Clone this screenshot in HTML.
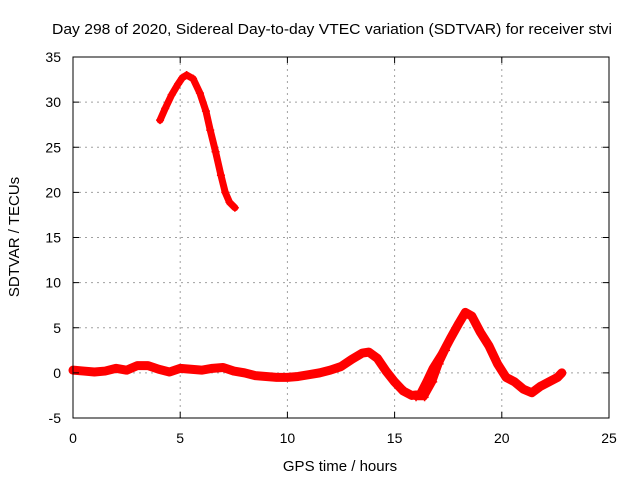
<!DOCTYPE html>
<html><head><meta charset="utf-8"><style>
body{margin:0;background:#fff;}
svg text{font-family:"Liberation Sans",sans-serif;font-size:14px;fill:#000;}
</style></head><body>
<svg width="640" height="480">
<rect width="640" height="480" fill="#fff"/>
<g id="grid"></g>
<g id="marks"></g>
<rect x="73" y="57" width="536" height="361" fill="none" stroke="#000" stroke-width="1"/>
<g id="ticks"></g>
<text x="52" y="34" textLength="560" lengthAdjust="spacingAndGlyphs" style="font-size:15px">Day 298 of 2020, Sidereal Day-to-day VTEC variation (SDTVAR) for receiver stvi</text>
<text x="340" y="471" text-anchor="middle" style="font-size:15px">GPS time / hours</text>
<text transform="translate(19,237) rotate(-90)" text-anchor="middle" style="font-size:15px">SDTVAR / TECUs</text>
</svg>
<script>
const xTicks=[0,5,10,15,20,25];
const yTicks=[-5,0,5,10,15,20,25,30,35];
const arcHours=[4.06,4.3,4.6,4.9,5.1,5.3,5.6,5.92,6.2,6.4,6.65,6.9,7.1,7.3,7.55];
const arcValues=[28.0,29.3,30.8,32.0,32.7,33.0,32.6,31.0,29.0,26.9,24.5,21.9,20.0,18.9,18.3];
const lowHours=[0,0.5,1,1.5,2,2.5,3,3.5,4,4.5,5,5.5,6,6.5,7,7.5,8,8.5,9,9.5,10,10.5,11,11.5,12,12.5,13,13.5,13.8,14.2,14.6,15,15.4,15.8,16.2,16.5,16.8,17.2,17.6,18,18.3,18.6,19,19.4,19.8,20.2,20.6,21,21.4,21.8,22.2,22.6,22.8];
const lowValues=[0.3,0.2,0.1,0.2,0.5,0.3,0.8,0.8,0.4,0.1,0.5,0.4,0.3,0.5,0.6,0.2,0,-0.3,-0.4,-0.5,-0.5,-0.4,-0.2,0,0.3,0.7,1.5,2.2,2.3,1.6,0.2,-1,-2,-2.5,-2.4,-1,0.5,2,3.8,5.5,6.7,6.3,4.5,3,1,-0.5,-1,-1.8,-2.2,-1.5,-1,-0.5,0];
const loopHours=[15.5,16,16.4,16.8,17.1,17.4];
const loopValues=[-2,-2.7,-2.7,-1,1,2.5];
const X=h=>73+h*536/25, Y=v=>418-(v+5)*361/40;
const NS='http://www.w3.org/2000/svg';
function mk(t,a,p){const e=document.createElementNS(NS,t);for(const k in a)e.setAttribute(k,a[k]);p.appendChild(e);return e;}
const grid=document.getElementById('grid'),ticks=document.getElementById('ticks'),marks=document.getElementById('marks');
xTicks.forEach(t=>{const x=X(t);
 if(t>0&&t<25){const g=mk('line',{x1:x,x2:x,y1:57,y2:418,stroke:'#a0a0a0','stroke-dasharray':'2,4'},grid);
 
 }
 mk('line',{x1:x,x2:x,y1:418,y2:412,stroke:'#000'},ticks);mk('line',{x1:x,x2:x,y1:57,y2:63,stroke:'#000'},ticks);
 const tx=mk('text',{x:x,y:443,'text-anchor':'middle'},ticks);tx.textContent=t;
 
 });
yTicks.forEach(t=>{const y=Y(t);
 if(t>-5&&t<35){const g=mk('line',{x1:73,x2:609,y1:y,y2:y,stroke:'#a0a0a0','stroke-dasharray':'2,4'},grid);
 
 }
 mk('line',{x1:73,x2:79,y1:y,y2:y,stroke:'#000'},ticks);mk('line',{x1:609,x2:603,y1:y,y2:y,stroke:'#000'},ticks);
 const tx=mk('text',{x:61,y:y+5,'text-anchor':'end'},ticks);tx.textContent=t;
 
 });
function series(hs,vs,w,name){
 const pts=hs.map((h,i)=>X(h)+','+Y(vs[i])).join(' ');
 const pl=mk('polyline',{points:pts,fill:'none',stroke:'#f00','stroke-width':w,'stroke-linejoin':'round','stroke-linecap':'round'},marks);
 
 
 hs.forEach((h,i)=>{const x=X(h),y=Y(vs[i]);
  const p=mk('path',{d:`M${x-4},${y}h8M${x},${y-4}v8`,stroke:'#f00','stroke-width':1.5},marks);
  
  });
}
series(arcHours,arcValues,7,'sdtvar-arc-series');
series(lowHours,lowValues,9,'sdtvar-main-series');
series(loopHours,loopValues,6,'sdtvar-loop-series');
</script>
</body></html>
